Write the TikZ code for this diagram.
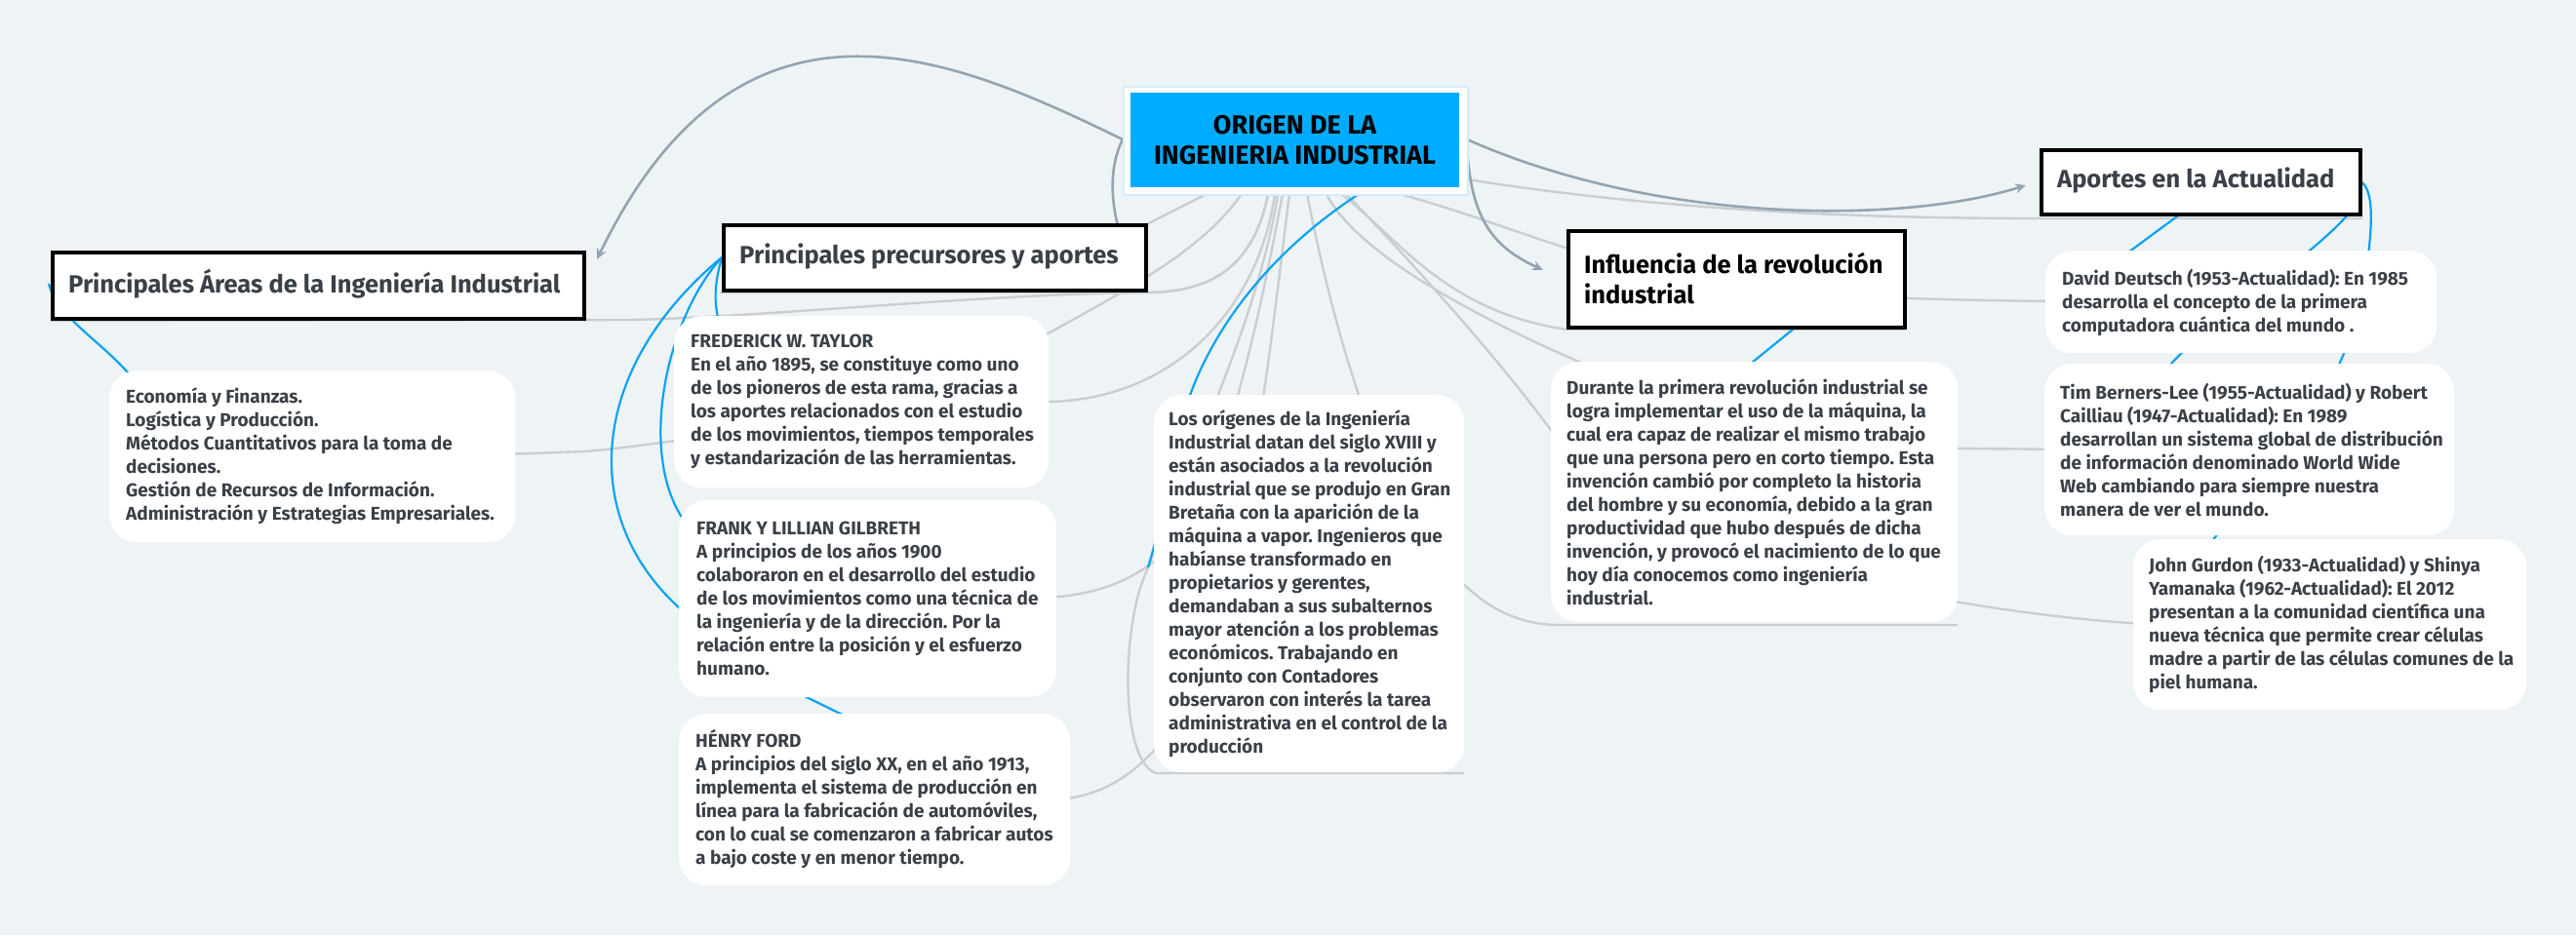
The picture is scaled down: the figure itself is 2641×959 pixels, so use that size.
\documentclass[tikz,border=0pt]{standalone}
\usepackage{fontspec}
\setmainfont{Fira Sans}
\usetikzlibrary{arrows.meta}
\definecolor{bg}{HTML}{EEF3F6}
\definecolor{lgray}{HTML}{C9CED2}
\definecolor{slate}{HTML}{95A4B0}
\definecolor{blueline}{HTML}{0AA3F2}
\definecolor{cblue}{HTML}{00ACFF}
\definecolor{cedge}{HTML}{D3ECF8}
\definecolor{txt}{HTML}{3A4047}
\begin{document}
\frenchspacing
\begin{tikzpicture}[x=1pt,y=-1pt,
  gline/.style={draw=lgray, line width=2.4pt},
  sline/.style={draw=slate, line width=2.6pt},
  bline/.style={draw=blueline, line width=2.2pt},
  arr/.style={-{Stealth[length=11pt,width=10pt,inset=3.5pt]}},
  detailbox/.style={rectangle, rounded corners=28pt, fill=white, draw=none, anchor=north west, inner sep=0pt},
  topicbox/.style={rectangle, fill=white, draw=black, line width=4pt, anchor=north west, inner sep=0pt},
  body/.style={anchor=west, align=left, inner sep=0pt, text=txt, font=\bfseries\fontsize{19}{24}\selectfont},
  head/.style={anchor=west, align=left, inner sep=0pt, text=txt, font=\bfseries\fontsize{25.5}{31}\selectfont},
]
\useasboundingbox (0,0) rectangle (2641,959);
\fill[bg] (0,0) rectangle (2641,959);

% ---------- connector end points ----------
\coordinate (cL1) at (1151,143);
\coordinate (cR1) at (1504,143);
\coordinate (cR2) at (1504,150);
\coordinate (cR3) at (1504,184);
\coordinate (cB1) at (1237,199);
\coordinate (cB2) at (1273,199);
\coordinate (cB3) at (1300,199);
\coordinate (cB4) at (1307,199);
\coordinate (cB5) at (1310,199);
\coordinate (cB6) at (1315,199);
\coordinate (cB7) at (1322,199);
\coordinate (cB8) at (1340,199);
\coordinate (cB9) at (1360,199);
\coordinate (cB10) at (1375,199);
\coordinate (cB11) at (1380,199);
\coordinate (cB12) at (1393,199);
\coordinate (cB13) at (1435,199);

\coordinate (areasArr) at (612,266);
\coordinate (precTop) at (1150,245);
\coordinate (origBot) at (1501,793);
\coordinate (frankR) at (1060,613);
\coordinate (henryR) at (1080,820);
\coordinate (durBot) at (2007,641);
\coordinate (taylorTR) at (1060,350);
\coordinate (econR) at (515,466);
\coordinate (areasBL) at (52,329);
\coordinate (precBL) at (738,300);
\coordinate (precTR) at (1160,238);
\coordinate (aportesBR) at (2422,224);
\coordinate (aportesArr) at (2077,190);
\coordinate (influArr) at (1582,277);
\coordinate (davidL) at (2110,309);
\coordinate (influBR) at (1953,338);
\coordinate (timL) at (2110,461);
\coordinate (johnL) at (2200,640);

\coordinate (areasL) at (50,291);
\coordinate (econTL) at (145,400);
\coordinate (precL) at (740,264);
\coordinate (taylorTL) at (740,340);
\coordinate (frankTL) at (710,545);
\coordinate (frankL) at (710,635);
\coordinate (frankB) at (790,697);
\coordinate (henryT) at (880,741);
\coordinate (origL) at (1177,582);
\coordinate (influB) at (1860,320);
\coordinate (durT) at (1780,385);
\coordinate (aportesB1) at (2255,205);
\coordinate (davidT) at (2160,275);
\coordinate (aportesB2) at (2415,210);
\coordinate (timT) at (2220,380);
\coordinate (aportesR) at (2420,186);
\coordinate (johnT) at (2262,565);

% ---------- gray connectors ----------
\draw[gline] (cB5) .. controls (1290,330) and (1215,480) .. (1170,600) .. controls (1150,660) and (1150,780) .. (1185,793) -- (origBot);
\draw[gline] (cB6) .. controls (1290,330) and (1270,420) .. (1230,520) .. controls (1190,590) and (1130,613) .. (frankR);
\draw[gline] (cB7) .. controls (1305,330) and (1290,500) .. (1235,690) .. controls (1205,750) and (1160,818) .. (henryR);
\draw[gline] (cB8) .. controls (1360,300) and (1390,420) .. (1440,520) .. controls (1500,620) and (1550,641) .. (1600,641) -- (durBot);
\draw[gline] (cB2) .. controls (1230,260) and (1150,300) .. (taylorTR);
\draw[gline] (cB4) .. controls (1290,320) and (1200,410) .. (1075,412) .. controls (900,415) and (700,455) .. (600,463) -- (econR);
\draw[gline] (cB3) .. controls (1285,275) and (1240,300) .. (1175,300) .. controls (1000,302) and (800,324) .. (650,328) -- (areasBL);
\draw[gline] (cB3) .. controls (1285,275) and (1240,300) .. (1175,300) -- (precBL);
\draw[gline] (cB1) -- (precTR);
\draw[gline] (cR3) .. controls (1700,215) and (1900,224) .. (2089,224) -- (aportesBR);
\draw[gline] (cB13) .. controls (1530,225) and (1600,258) .. (1700,280) .. controls (1800,300) and (1900,307) .. (davidL);
\draw[gline] (cB10) .. controls (1430,240) and (1480,320) .. (1607,338) -- (influBR);
\draw[gline] (cB9) .. controls (1390,260) and (1520,330) .. (1640,380) .. controls (1800,470) and (1950,458) .. (timL);
\draw[gline] (cB11) .. controls (1430,250) and (1540,370) .. (1600,455) .. controls (1700,580) and (2050,632) .. (johnL);

% ---------- slate connectors ----------
\draw[sline,arr] (cL1) .. controls (980,60) and (760,-40) .. (areasArr);
\draw[sline] (cL1) .. controls (1135,175) and (1140,215) .. (precTop);
\draw[sline,arr] (cR1) .. controls (1700,230) and (1950,230) .. (aportesArr);
\draw[sline,arr] (cR2) .. controls (1508,230) and (1535,255) .. (influArr);

% ---------- blue connectors ----------
\draw[bline] (areasL) .. controls (60,330) and (115,355) .. (econTL);
\draw[bline] (precL) .. controls (733,290) and (730,310) .. (taylorTL);
\draw[bline] (precL) .. controls (680,330) and (650,480) .. (frankTL);
\draw[bline] (precL) .. controls (600,380) and (590,540) .. (frankL);
\draw[bline] (frankB) -- (henryT);
\draw[bline] (cB12) .. controls (1300,260) and (1240,340) .. (1215,420) .. controls (1200,480) and (1190,540) .. (origL);
\draw[bline] (influB) -- (durT);
\draw[bline] (aportesB1) -- (davidT);
\draw[bline] (aportesB2) .. controls (2380,260) and (2260,330) .. (timT);
\draw[bline] (aportesR) .. controls (2435,195) and (2431,235) .. (2428,262) .. controls (2420,330) and (2400,370) .. (2395,380) .. controls (2380,450) and (2300,500) .. (johnT);

% ---------- central node ----------
\node[rectangle, fill=white, draw=cedge, line width=1.5pt, anchor=north west, inner sep=0pt, minimum width=353pt, minimum height=111pt] (central) at (1151,88) {};
\node[rectangle, fill=cblue, anchor=north west, inner sep=0pt, minimum width=337pt, minimum height=97pt] (centralin) at (1159,95) {};
\node[align=center, inner sep=0pt, text=black, font=\bfseries\fontsize{27}{31}\selectfont] (centralt) at (1327.5,144) {ORIGEN DE LA\\INGENIERIA INDUSTRIAL};

% ---------- topic boxes ----------
\node[topicbox, minimum width=545pt, minimum height=68pt] (areas) at (52,257) {};
\node[head] (areast) at (70,291) {Principales Áreas de la Ingeniería Industrial};
\node[topicbox, minimum width=433pt, minimum height=67pt] (precur) at (740,229) {};
\node[head] (precurt) at (758,263) {Principales precursores y aportes};
\node[topicbox, minimum width=327pt, minimum height=66pt] (aportes) at (2091,152) {};
\node[head] (aportest) at (2109,185) {Aportes en la Actualidad};
\node[topicbox, minimum width=345pt, minimum height=99pt] (influ) at (1606,235) {};
\node[head, text=black] (influt) at (1624,285.5) {Influencia de la revolución\\industrial};

% ---------- detail boxes ----------
\node[detailbox, minimum width=416pt, minimum height=176pt] (econ) at (112,380) {};
\node[body] (econt) at (129,468) {Economía y Finanzas.\\Logística y Producción.\\Métodos Cuantitativos para la toma de\\decisiones.\\Gestión de Recursos de Información.\\Administración y Estrategias Empresariales.};

\node[detailbox, minimum width=384pt, minimum height=176pt] (taylor) at (691,324) {};
\node[body] (taylort) at (708,412) {FREDERICK W. TAYLOR\\En el año 1895, se constituye como uno\\de los pioneros de esta rama, gracias a\\los aportes relacionados con el estudio\\de los movimientos, tiempos temporales\\y estandarización de las herramientas.};

\node[detailbox, minimum width=387pt, minimum height=202pt] (frank) at (696,513) {};
\node[body] (frankt) at (714,614) {FRANK Y LILLIAN GILBRETH\\A principios de los años 1900\\colaboraron en el desarrollo del estudio\\de los movimientos como una técnica de\\la ingeniería y de la dirección. Por la\\relación entre la posición y el esfuerzo\\humano.};

\node[detailbox, minimum width=401pt, minimum height=176pt] (henry) at (696,732) {};
\node[body] (henryt) at (713,820) {HÉNRY FORD\\A principios del siglo XX, en el año 1913,\\implementa el sistema de producción en\\línea para la fabricación de automóviles,\\con lo cual se comenzaron a fabricar autos\\a bajo coste y en menor tiempo.};

\node[detailbox, minimum width=318pt, minimum height=387pt] (origenes) at (1183,405) {};
\node[body] (origenest) at (1198,598.5) {Los orígenes de la Ingeniería\\Industrial datan del siglo XVIII y\\están asociados a la revolución\\industrial que se produjo en Gran\\Bretaña con la aparición de la\\máquina a vapor. Ingenieros que\\habíanse transformado en\\propietarios y gerentes,\\demandaban a sus subalternos\\mayor atención a los problemas\\económicos. Trabajando en\\conjunto con Contadores\\observaron con interés la tarea\\administrativa en el control de la\\producción};

\node[detailbox, minimum width=417pt, minimum height=267pt] (durante) at (1590,371) {};
\node[body] (durantet) at (1606,504.5) {Durante la primera revolución industrial se\\logra implementar el uso de la máquina, la\\cual era capaz de realizar el mismo trabajo\\que una persona pero en corto tiempo. Esta\\invención cambió por completo la historia\\del hombre y su economía, debido a la gran\\productividad que hubo después de dicha\\invención, y provocó el nacimiento de lo que\\hoy día conocemos como ingeniería\\industrial.};

\node[detailbox, minimum width=401pt, minimum height=105pt] (david) at (2097,257) {};
\node[body] (davidt) at (2114,310) {David Deutsch (1953-Actualidad): En 1985\\desarrolla el concepto de la primera\\computadora cuántica del mundo .};

\node[detailbox, minimum width=420pt, minimum height=176pt] (tim) at (2096,373) {};
\node[body] (timt) at (2112,461) {Tim Berners-Lee (1955-Actualidad) y Robert\\Cailliau (1947-Actualidad): En 1989\\desarrollan un sistema global de distribución\\de información denominado World Wide\\Web cambiando para siempre nuestra\\manera de ver el mundo.};

\node[detailbox, minimum width=403pt, minimum height=175pt] (john) at (2187,553) {};
\node[body] (johnt) at (2203,640) {John Gurdon (1933-Actualidad) y Shinya\\Yamanaka (1962-Actualidad): El 2012\\presentan a la comunidad científica una\\nueva técnica que permite crear células\\madre a partir de las células comunes de la\\piel humana.};
\end{tikzpicture}
\end{document}
